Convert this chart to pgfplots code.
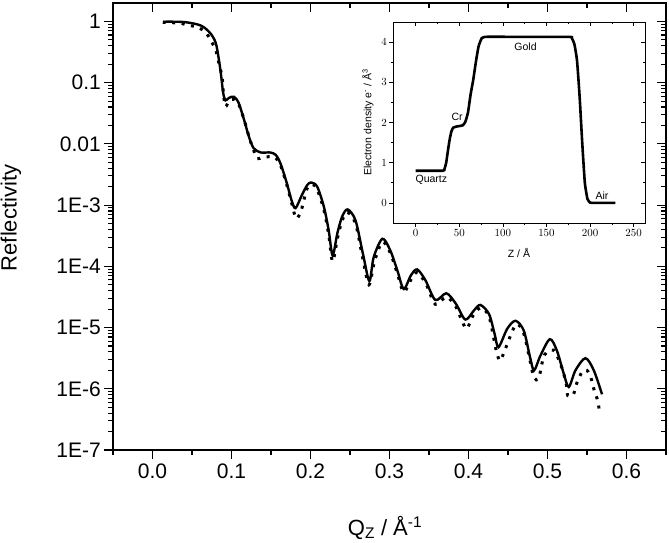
\documentclass[border=0pt]{standalone}
\usepackage{fontspec}
\setmainfont{Liberation Sans}
\usepackage{pgfplots}
\pgfplotsset{compat=1.18}
\newcommand{\tkfont}{\fontsize{21bp}{25bp}\selectfont}
\newcommand{\labfont}{\fontsize{22bp}{26bp}\selectfont}
\newcommand{\smfont}{\fontsize{10.5bp}{12.5bp}\selectfont}

\pgfplotstableread{
q R
0.0135 0.989
0.040 0.977
0.061 0.859
0.073 0.646
0.080 0.447
0.084 0.240
0.087 0.126
0.0895 0.0676
0.0924 0.0513
0.0966 0.0562
0.103 0.0589
0.109 0.0468
0.116 0.0245
0.122 0.0132
0.128 0.00851
0.137 0.00724
0.149 0.00724
0.156 0.00661
0.162 0.00479
0.170 0.00229
0.176 0.00120
0.181 8.91e-4
0.189 1.45e-3
0.196 2.14e-3
0.201 2.34e-3
0.2085 2.0e-3
0.217 9.33e-4
0.223 3.89e-4
0.228 1.51e-4
0.234 3.47e-4
0.240 6.46e-4
0.247 8.51e-4
0.257 5.62e-4
0.2665 1.58e-4
0.2745 5.75e-5
0.280 1.41e-4
0.291 2.82e-4
0.301 1.82e-4
0.310 8.51e-5
0.318 4.27e-5
0.327 7.08e-5
0.335 8.91e-5
0.3456 5.89e-5
0.358 2.82e-5
0.372 3.63e-5
0.384 2.45e-5
0.396 1.35e-5
0.407 1.91e-5
0.415 2.34e-5
0.426 1.66e-5
0.433 7.94e-6
0.438 4.79e-6
0.449 9.55e-6
0.4595 1.29e-5
0.470 8.91e-6
0.478 3.24e-6
0.483 2.0e-6
0.491 3.47e-6
0.503 6.46e-6
0.512 4.17e-6
0.5207 1.74e-6
0.527 1.07e-6
0.5354 2.0e-6
0.548 3.16e-6
0.5586 2.0e-6
0.569 8.13e-7
}\fit

\pgfplotstableread{
q R
0.013 0.970
0.025 0.955
0.037 0.927
0.044 0.871
0.0586 0.794
0.069 0.617
0.0755 0.447
0.080 0.347
0.084 0.209
0.088 0.126
0.090 0.0631
0.0924 0.0407
0.097 0.0501
0.103 0.0537
0.110 0.0417
0.117 0.0224
0.123 0.0120
0.128 0.00794
0.1325 0.00575
0.140 0.00603
0.147 0.00617
0.155 0.00603
0.162 0.00447
0.170 0.00214
0.176 0.00110
0.182 6.03e-4
0.1886 8.51e-4
0.195 1.78e-3
0.201 2.19e-3
0.208 1.86e-3
0.217 8.32e-4
0.223 3.31e-4
0.228 1.20e-4
0.234 2.82e-4
0.240 5.62e-4
0.247 7.59e-4
0.257 5.01e-4
0.266 1.38e-4
0.274 5.01e-5
0.281 1.20e-4
0.291 2.51e-4
0.301 1.66e-4
0.310 7.59e-5
0.318 3.80e-5
0.327 6.03e-5
0.335 7.94e-5
0.346 5.25e-5
0.358 2.40e-5
0.372 3.16e-5
0.384 2.19e-5
0.392 1.26e-5
0.398 9.55e-6
0.405 1.51e-5
0.415 2.09e-5
0.426 1.51e-5
0.435 4.27e-6
0.440 2.88e-6
0.446 4.27e-6
0.460 1.12e-5
0.470 7.94e-6
0.478 2.82e-6
0.483 1.51e-6
0.489 1.51e-6
0.496 3.55e-6
0.508 4.27e-6
0.5156 2.69e-6
0.520 1.86e-6
0.524 1.15e-6
0.5257 7.76e-7
0.5325 7.94e-7
0.537 1.23e-6
0.544 1.91e-6
0.550 2.0e-6
0.555 1.51e-6
0.559 9.55e-7
0.5637 6.31e-7
0.566 3.98e-7
}\data

\pgfplotstableread{
z rho
0 0.80
31 0.80
33 0.84
35 1.0
37 1.3
39 1.58
41 1.78
43 1.87
47 1.90
54 1.93
57 2.02
60 2.25
63 2.70
66 3.06
69 3.50
72 3.88
75 4.06
79 4.13
120 4.13
176 4.13
179 4.10
182 3.95
185 3.55
188 2.65
191 1.50
194 0.50
197 0.10
200 0.01
204 0.0
229 0.0
}\profile

\begin{document}
\begin{tikzpicture}
% main axis, outward ticks with labels
\begin{axis}[at={(0,0)}, anchor=south west,
    scale only axis, width=553bp, height=447bp,
    xmin=-0.05, xmax=0.65, ymode=log, ymin=1e-7, ymax=2.0,
    axis line style={line width=1.2bp},
    major tick length=9bp, minor tick length=5bp,
    every tick/.style={line width=1.1bp, black},
    xtick={0,0.1,0.2,0.3,0.4,0.5,0.6},
    minor xtick={-0.05,0.05,0.15,0.25,0.35,0.45,0.55,0.65},
    ytick={1e-7,1e-6,1e-5,1e-4,1e-3,0.01,0.1,1},
    tick label style={font=\tkfont},
  tick align=outside, xtick pos=bottom, ytick pos=left,
  xticklabels={0.0,0.1,0.2,0.3,0.4,0.5,0.6},
  yticklabels={1E-7,1E-6,1E-5,1E-4,1E-3,0.01,0.1,1},
  xticklabel style={inner sep=2bp, yshift=-3bp},
  yticklabel style={inner sep=3bp}]
\addplot[black, line width=3bp, line cap=butt, dash pattern=on 3bp off 6.5bp, smooth, tension=0.5] table[x=q,y=R] {\data};
\addplot[black, line width=2.4bp, smooth, tension=0.5] table[x=q,y=R] {\fit};
\end{axis}
% main axis, inward ticks top/right
\begin{axis}[at={(0,0)}, anchor=south west,
    scale only axis, width=553bp, height=447bp,
    xmin=-0.05, xmax=0.65, ymode=log, ymin=1e-7, ymax=2.0,
    axis line style={line width=1.2bp},
    major tick length=9bp, minor tick length=5bp,
    every tick/.style={line width=1.1bp, black},
    xtick={0,0.1,0.2,0.3,0.4,0.5,0.6},
    minor xtick={-0.05,0.05,0.15,0.25,0.35,0.45,0.55,0.65},
    ytick={1e-7,1e-6,1e-5,1e-4,1e-3,0.01,0.1,1},
  tick align=inside, xtick pos=top, ytick pos=right,
  xticklabels={}, yticklabels={}]
\end{axis}
% inset
\begin{axis}[at={(280bp,227bp)}, anchor=south west,
    scale only axis, width=252bp, height=201bp,
    xmin=-26, xmax=263, ymin=-0.5, ymax=4.5,
    axis line style={line width=0.8bp},
    major tick length=4bp, minor tick length=2.5bp,
    every tick/.style={line width=0.7bp, black},
    xtick={0,50,100,150,200,250},
    minor xtick={25,75,125,175,225},
    ytick={0,1,2,3,4},
    minor ytick={0.5,1.5,2.5,3.5},
    tick label style={font=\smfont},
  tick align=outside, xtick pos=bottom, ytick pos=left,
  axis background/.style={fill=white}, clip=false,
  xticklabel style={inner sep=2bp}, yticklabel style={inner sep=2bp}]
\addplot[black, line width=2.6bp, smooth, tension=0.3] table[x=z,y=rho] {\profile};
\node[font=\smfont] at (axis cs:18,0.57) {Quartz};
\node[font=\smfont] at (axis cs:47.5,2.14) {Cr};
\node[font=\smfont] at (axis cs:126,3.88) {Gold};
\node[font=\smfont] at (axis cs:213.6,0.18) {Air};
\end{axis}
\begin{axis}[at={(280bp,227bp)}, anchor=south west,
    scale only axis, width=252bp, height=201bp,
    xmin=-26, xmax=263, ymin=-0.5, ymax=4.5,
    axis line style={line width=0.8bp},
    major tick length=4bp, minor tick length=2.5bp,
    every tick/.style={line width=0.7bp, black},
    xtick={0,50,100,150,200,250},
    minor xtick={25,75,125,175,225},
    ytick={0,1,2,3,4},
    minor ytick={0.5,1.5,2.5,3.5},
  tick align=inside, xtick pos=top, ytick pos=right,
  xticklabels={}, yticklabels={}]
\end{axis}
% labels
\node[rotate=90, font=\labfont] at (-102bp,232bp) {Reflectivity};
\node[anchor=base, font=\labfont] at (272bp,-85bp) {Q\textsubscript{Z} / Å\textsuperscript{-1}};
\node[rotate=90, font=\smfont] at (255bp,327.5bp) {Electron density e\textsuperscript{-} / Å\textsuperscript{3}};
\node[font=\smfont] at (406bp,197bp) {Z / Å};
\pgfresetboundingbox
\path (-113bp,-93bp) rectangle (556bp,450bp);
\end{tikzpicture}
\end{document}
